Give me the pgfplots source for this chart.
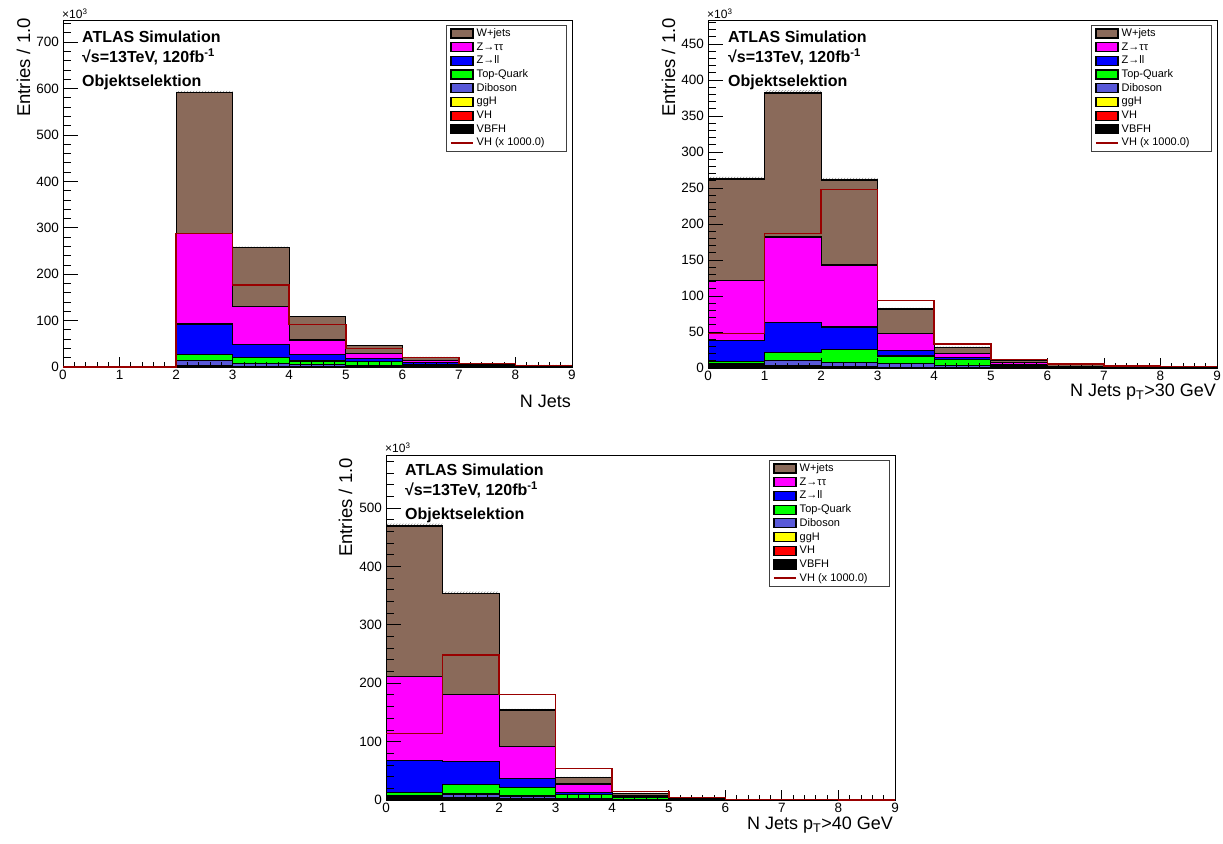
\documentclass[border=0pt]{standalone}
\usepackage{fontspec}
\setmainfont{Liberation Sans}
\usepackage{pgfplots}
\usepackage{pgfplotstable}
\pgfplotsset{compat=1.18}
\usetikzlibrary{patterns}
\definecolor{wjets}{RGB}{138,106,90}
\definecolor{ztt}{RGB}{255,0,255}
\definecolor{zll}{RGB}{0,0,255}
\definecolor{topq}{RGB}{0,255,0}
\definecolor{dibos}{RGB}{88,88,216}
\definecolor{ggh}{RGB}{255,255,0}
\definecolor{vhc}{RGB}{255,0,0}
\definecolor{vbfh}{RGB}{0,0,0}
\definecolor{vhline}{RGB}{153,0,0}

% N Jets
\pgfplotstableread{
x vbfh vh ggh dib top zll ztt wjets err vhx
0 0 0 0 0 0 0 0 0 0 0
1 0 0 0 0 0 0 0 0 0 0
2 0.8 0.29 1.2 11.3 12.9 66.2 195.3 303 4 288
3 0.6 0.18 0.8 6.4 12 29 81 127 2.5 177
4 0.4 0.09 0.5 4 8 13.5 31.5 50 1.5 92
5 0.3 0.04 0.3 3.4 7.5 7.1 10.9 16.5 1 39.5
6 0.2 0.02 0.2 2.1 3.5 3 5 7 0.7 20
7 0.1 0.01 0.1 0.8 1 1 2 3 0.5 7
8 0.05 0.005 0.05 0.4 0.5 0.5 1 1.5 0.3 3
9 0.05 0.005 0.05 0.4 0.5 0.5 1 1.5 0.3 3
}\tabA
% N Jets pT>30
\pgfplotstableread{
x vbfh vh ggh dib top zll ztt wjets err vhx
0 2 0.05 2 1.95 3 29 84 140.5 3 48
1 1.5 0.19 1.5 6.8 11 42.5 118.5 200 4 187
2 1.2 0.25 1 5.55 18 31 86 118 3 248
3 0.6 0.09 0.5 4.8 10.7 7.3 24 34 1.5 94
4 0.3 0.03 0.3 3.37 8 2.8 5.5 8.4 1 33
5 0.15 0.01 0.15 1.69 2 1 3 2.6 0.5 12
6 0.05 0.005 0.05 0.5 0.6 0.3 0.5 2.5 0.3 5.5
7 0.02 0.003 0.02 0.15 0.2 0.1 0.1 0.9 0.2 3
8 0.01 0.002 0.01 0.08 0.05 0.05 0.1 0.5 0.1 2
9 0.01 0.002 0.01 0.08 0.05 0.05 0.1 0.5 0.1 2
}\tabB
% N Jets pT>40
\pgfplotstableread{
x vbfh vh ggh dib top zll ztt wjets err vhx
0 2 0.11 1.5 3.2 5.7 54.5 145 257 4 114
1 2 0.25 1.5 6.5 16.7 38.6 114.4 174 3 248
2 1 0.18 0.8 4.8 14.2 16 54 63 2 181
3 0.5 0.05 0.4 2 7 3 14.4 11.1 1 54
4 0.2 0.014 0.2 1.1 2.5 1 2 4.5 0.6 14.2
5 0.05 0.005 0.05 0.4 0.7 0.4 0.6 1.3 0.3 4.6
6 0.02 0.001 0.02 0.16 0.2 0.1 0.2 0.4 0.2 1.2
7 0.01 0.001 0.01 0.08 0.1 0.05 0.05 0.2 0.1 0.6
8 0.005 0.001 0.005 0.04 0.05 0.05 0.05 0.1 0.1 0.4
9 0.005 0.001 0.005 0.04 0.05 0.05 0.05 0.1 0.1 0.4
}\tabC

\pgfplotsset{
  histframe/.style={
    scale only axis, width=509pt, anchor=south west,
    xmin=0, xmax=9, ymin=0,
    stack plots=y, axis on top,
    xtick={0,...,9}, minor x tick num=4, minor y tick num=4,
    xtick pos=left, ytick pos=left, tick align=inside,
    major x tick style={/pgfplots/major tick length=10pt},
    minor x tick style={/pgfplots/minor tick length=5pt},
    major y tick style={/pgfplots/major tick length=15pt},
    minor y tick style={/pgfplots/minor tick length=8pt},
    ticklabel style={font=\fontsize{13.5}{14}\selectfont},
    /pgf/number format/assume math mode=true,
    xticklabel style={inner sep=0pt, yshift=-3pt},
    yticklabel style={inner sep=0pt, xshift=-4pt},
    axis line style={line width=0.8pt},
    tick style={black, line width=0.8pt},
    reverse legend, legend cell align=left,
    legend style={at={(rel axis cs:1,1)}, anchor=north east, xshift=-5pt, yshift=-5pt,
      draw=black!75, line width=0.8pt, fill=white, inner xsep=4pt, inner ysep=3pt,
      row sep=3.5pt, column sep=3pt,
      font=\fontsize{11}{12}\selectfont,
      nodes={inner sep=0pt, text height=8pt, text depth=2pt}},
  },
  stk/.style={const plot mark left, draw=black, line width=1.2pt, fill=#1, mark=none,
    legend image code/.code={\draw[##1] (0pt,-4.5pt) rectangle (22pt,4.5pt);}},
  errb/.style={const plot mark left, draw=none, mark=none, pattern=north east lines, pattern color=black!45, forget plot},
  ovl/.style={scale only axis, width=509pt, anchor=south west, xmin=0, xmax=9, ymin=0, hide axis, clip=false},
  vhl/.style={const plot mark left, mark=none, draw=vhline, line width=1.5pt},
}

\newcommand{\stackplots}[1]{%
  \addlegendimage{legend image code/.code={\draw[vhline, line width=1.5pt] (0pt,0pt) -- (22pt,0pt);}}
  \addlegendentry{VH (x 1000.0)\hspace*{18pt}}
  \addplot[stk=vbfh] table[x=x,y=vbfh]{#1} \closedcycle; \addlegendentry{VBFH}
  \addplot[stk=vhc] table[x=x,y=vh]{#1} \closedcycle; \addlegendentry{VH}
  \addplot[stk=ggh] table[x=x,y=ggh]{#1} \closedcycle; \addlegendentry{ggH}
  \addplot[stk=dibos] table[x=x,y=dib]{#1} \closedcycle; \addlegendentry{Diboson}
  \addplot[stk=topq] table[x=x,y=top]{#1} \closedcycle; \addlegendentry{Top-Quark}
  \addplot[stk=zll] table[x=x,y=zll]{#1} \closedcycle; \addlegendentry{Z→ll}
  \addplot[stk=ztt] table[x=x,y=ztt]{#1} \closedcycle; \addlegendentry{Z→ττ}
  \addplot[stk=wjets] table[x=x,y=wjets]{#1} \closedcycle; \addlegendentry{W+jets}
  \addplot[errb] table[x=x,y=err]{#1} \closedcycle;
}

\newcommand{\atlas}[2]{%
  \node[anchor=base west, inner sep=0pt, font=\bfseries\fontsize{16}{16}\selectfont] at (#1,#2) {ATLAS Simulation};
  \node[anchor=base west, inner sep=0pt, font=\bfseries\fontsize{16}{16}\selectfont] at (#1,#2-20) {√s=13TeV, 120fb\textsuperscript{-1}};
  \node[anchor=base west, inner sep=0pt, font=\bfseries\fontsize{16}{16}\selectfont] at (#1,#2-44) {Objektselektion};
}

\begin{document}
\begin{tikzpicture}[x=1pt,y=1pt]
\useasboundingbox (0,0) rectangle (1223,843);

% ---------- Panel 1 ----------
\begin{axis}[histframe, at={(63pt,476pt)}, height=347pt, ymax=747.8, ytick={0,100,...,800}]
\stackplots{\tabA}
\end{axis}
\begin{axis}[ovl, at={(63pt,476pt)}, height=347pt, ymax=747.8]
\addplot[vhl] table[x=x,y=vhx]{\tabA};
\end{axis}
\node[anchor=base west, inner sep=0pt, font=\fontsize{12}{12}\selectfont] at (62,824.5) {×10\textsuperscript{3}};
\atlas{82}{800}
\node[rotate=90, anchor=base east, inner sep=0pt, font=\fontsize{18.5}{18.5}\selectfont] at (30,825) {Entries / 1.0};
\node[anchor=base east, inner sep=0pt, font=\fontsize{18}{18}\selectfont] at (571,435) {N Jets};

% ---------- Panel 2 ----------
\begin{axis}[histframe, at={(708pt,475pt)}, height=348pt, ymax=483.3, ytick={0,50,...,500}]
\stackplots{\tabB}
\end{axis}
\begin{axis}[ovl, at={(708pt,475pt)}, height=348pt, ymax=483.3]
\addplot[vhl] table[x=x,y=vhx]{\tabB};
\end{axis}
\node[anchor=base west, inner sep=0pt, font=\fontsize{12}{12}\selectfont] at (707,824.5) {×10\textsuperscript{3}};
\atlas{728}{800}
\node[rotate=90, anchor=base east, inner sep=0pt, font=\fontsize{18.5}{18.5}\selectfont] at (675,825) {Entries / 1.0};
\node[anchor=base east, inner sep=0pt, font=\fontsize{18}{18}\selectfont] at (1216,446) {N Jets p\textsubscript{T}>30 GeV};

% ---------- Panel 3 ----------
\begin{axis}[histframe, at={(386pt,43pt)}, height=345pt, ymax=590.7, ytick={0,100,...,600}]
\stackplots{\tabC}
\end{axis}
\begin{axis}[ovl, at={(386pt,43pt)}, height=345pt, ymax=590.7]
\addplot[vhl] table[x=x,y=vhx]{\tabC};
\end{axis}
\node[anchor=base west, inner sep=0pt, font=\fontsize{12}{12}\selectfont] at (385,390.3) {×10\textsuperscript{3}};
\atlas{405}{367}
\node[rotate=90, anchor=base east, inner sep=0pt, font=\fontsize{18.5}{18.5}\selectfont] at (352,385) {Entries / 1.0};
\node[anchor=base east, inner sep=0pt, font=\fontsize{18}{18}\selectfont] at (893,13.5) {N Jets p\textsubscript{T}>40 GeV};
\end{tikzpicture}
\end{document}
